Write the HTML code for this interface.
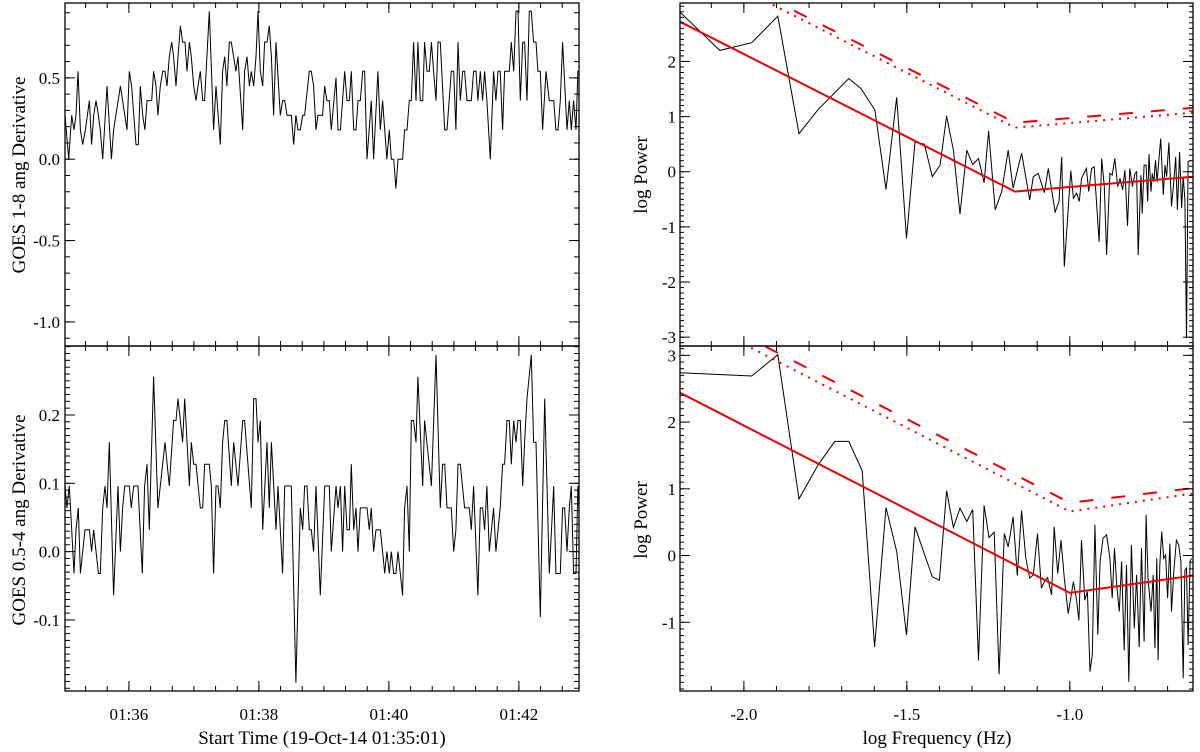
<!DOCTYPE html>
<html><head><meta charset="utf-8"><style>
html,body{margin:0;padding:0;background:#fff;}
svg{display:block;font-family:"Liberation Serif",serif;}
</style></head><body>
<svg id="fig" width="1200" height="752" viewBox="0 0 1200 752" xmlns="http://www.w3.org/2000/svg"></svg>
<script>
// ---- Top-left: GOES 1-8 derivative ----
const t18 = [0,3.4,6.2,8.3,10.2,12,14.2,16.3,18.8,22.5,24.6,26.5,28.6,30.8,32.6,34.8,38.8,42.8,44.9,51.1,57.2,59.4,61.5,65.5,67.7,69.5,71.7,73.8,75.7,80,81.8,84,85.8,88,90.2,92.3,94.2,96.3,98.5,100.3,102.5,104.3,106.5,108.6,110.8,112.6,114.8,116.6,118.8,120.9,122.8,124.9,127.1,128.9,133.2,137.2,139.4,143.4,145.5,147.4,149.5,151.7,153.5,157.8,159.7,164,165.8,168,170.2,172,174.2,176.3,178.2,180.3,182.5,184.3,186.5,188.6,190.5,192.6,194.8,198.8,200.9,202.8,204.9,208.9,211.1,213.2,215.1,217.2,219.4,221.2,225.5,227.4,229.5,231.7,233.5,237.8,239.7,241.8,244,245.8,250.2,252,254.2,258.2,260.3,262.5,264.3,266.5,268.6,270.5,272.6,274.8,276.6,278.8,282.8,284.9,288.9,291.1,293.2,295.1,297.2,299.4,301.2,303.4,305.5,307.4,311.7,313.5,315.7,317.8,319.7,321.8,324,325.8,328,330.2,332,334.2,336.3,338.2,340.3,342.5,344.3,346.5,350.5,352.6,356.6,358.8,360.9,362.8,364.9,367.1,368.9,371.1,375.1,377.2,379.4,381.2,383.4,385.5,387.4,389.5,392.6,395.7,397.8,399.7,401.8,404,405.8,408,410.2,412,414.2,416.3,418.2,420.3,422.5,424.3,426.5,428.6,430.5,432.6,434.8,436.6,438.8,440.9,444,447.1,448.9,451.1,453.2,455.1,457.2,459.4,463.4,465.5,467.4,469.5,471.7,473.5,474.5];
const v18 = [0.27,0,0.27,0.18,0.27,0.54,0.18,0.09,0.18,0.36,0.09,0.27,0.36,0.27,0.18,0,0.45,0,0.18,0.45,0.18,0.54,0.45,0.09,0.09,0.45,0.27,0.18,0.36,0.36,0.54,0.45,0.27,0.45,0.54,0.54,0.45,0.63,0.72,0.63,0.45,0.63,0.82,0.72,0.72,0.54,0.72,0.63,0.45,0.36,0.45,0.54,0.36,0.36,0.91,0.18,0.45,0.09,0.54,0.63,0.45,0.72,0.72,0.54,0.63,0.18,0.54,0.63,0.45,0.54,0.45,0.63,0.91,0.54,0.45,0.72,0.72,0.82,0.63,0.27,0.72,0.27,0.36,0.36,0.27,0.27,0.09,0.27,0.18,0.18,0.27,0.27,0.54,0.54,0.45,0.18,0.27,0.27,0.45,0.36,0.36,0.18,0.5,0.18,0.18,0.54,0.36,0.36,0.54,0.18,0.18,0.36,0.36,0.54,0.54,0,0.36,0,0.54,0.18,0.36,0.18,0,0.18,0,0,-0.18,0,0,0.18,0.18,0.36,0.36,0.72,0.36,0.72,0.36,0.36,0.72,0.54,0.54,0.72,0.54,0.36,0.72,0.72,0.18,0.18,0.54,0.54,0.18,0.72,0.36,0.54,0.54,0.36,0.36,0.54,0.54,0.36,0.54,0.36,0.54,0.36,0,0.54,0.36,0.54,0.54,0.18,0.54,0.54,0.54,0.72,0.54,0.91,0.91,0.36,0.72,0.72,0.36,0.91,0.91,0.72,0.72,0.54,0.54,0.18,0.54,0.36,0.36,0.36,0.18,0.18,0.36,0.72,0.18,0.36,0.18,0.36,0.18,0.54,0.54];
// ---- Bottom-left: GOES 0.5-4 derivative ----
const t054 = [0,1.8,4,6.2,8.3,10.2,12.3,14.2,16.3,18.5,22.5,24.6,26.5,30.8,32.6,34.8,36.9,38.8,40.9,44.9,48.9,51.1,53.2,55.1,59.4,61.2,63.4,67.4,71.4,73.5,75.7,77.8,81.8,85.8,88,92.3,96.3,100.3,102.5,104.3,108.6,110.5,114.8,116.6,118.8,120.9,124.9,127.1,128.9,133.2,135.1,137.2,139.4,141.2,143.4,145.5,147.4,149.5,153.5,155.7,159.7,164,165.8,172,174.2,176.3,178.2,180.3,182.5,186.5,188.6,190.5,194.8,196.6,200.9,202.8,208.9,213.2,217.2,219.4,221.2,223.4,225.5,227.4,229.5,231.7,235.7,239.7,244,245.8,250.2,252,254.2,256.3,258.2,260.3,262.5,264.3,266.5,268.6,270.5,272.6,276.6,278.8,280.9,282.8,284.9,287.1,291.1,293.2,295.1,297.2,299.4,301.2,303.4,305.5,307.4,311.7,313.5,315.7,317.8,319.7,321.8,324,325.8,330.2,332,338.2,342.5,346.5,348.6,350.5,352.6,356.6,358.8,360.9,362.8,364.9,368.9,373.2,375.1,377.2,381.2,383.4,385.5,387.4,389.5,391.7,395.7,397.8,401.8,404,405.8,408,410.2,412,414.2,416.3,418.2,420.3,422.5,424.3,426.5,430.5,432.6,434.8,438.8,442.8,447.1,451.1,453.2,457.2,459.4,461.2,463.4,465.5,467.4,469.5,471.7,473.5,474.5];
const v054 = [0.096,0.064,0.096,0.032,-0.032,0.032,0.064,-0.032,0,0.032,0.032,0,0.032,-0.032,-0.032,0.064,0.096,0.064,0.16,-0.064,0.096,0,0.064,0.096,0.096,0.064,0.096,0.096,-0.032,0.096,0.128,0.032,0.256,0.064,0.096,0.16,0.096,0.192,0.192,0.224,0.16,0.224,0.096,0.16,0.128,0.128,0.064,0.064,0.128,0.128,0.096,-0.032,0.096,0.096,0.064,0.16,0.192,0.192,0.096,0.16,0.096,0.192,0.192,0.064,0.224,0.224,0.16,0.192,0.032,0.16,0.064,0.16,0.032,0.096,-0.032,0.096,0.096,-0.192,0.064,0.032,0.096,0.096,0.032,0.032,0,0.096,-0.064,0.096,0.096,0,0.096,0.064,0.096,0,0.096,0.032,0.032,0.128,0.032,0.064,0,0.064,0.064,0.064,0.032,0.064,0,0.032,0.032,0,-0.032,0,-0.032,0,-0.032,-0.032,0,-0.064,0.064,0.096,0,0.192,0.192,0.16,0.256,0.096,0.192,0.096,0.288,0.064,0.128,0.128,0.064,0.064,0,0.032,0.128,0.128,0.064,0.064,0.032,0.096,-0.064,0.064,0.064,0.032,0.096,0,0.064,0,0.064,0.128,0.128,0.192,0.192,0.128,0.192,0.16,0.192,0.192,0.096,0.16,0.224,0.288,0.16,0.16,-0.096,0.224,-0.032,0.096,-0.032,-0.032,0.064,0.064,0,0.064,0.096,-0.032,-0.032,0.096,0.064];
// ---- Top-right: power spectrum 1-8 ----
const f18 = [-2.197,-2.074,-1.976,-1.896,-1.831,-1.772,-1.678,-1.641,-1.598,-1.564,-1.531,-1.501,-1.475,-1.446,-1.422,-1.398,-1.378,-1.357,-1.337,-1.316,-1.298,-1.280,-1.263,-1.249,-1.229,-1.209,-1.189,-1.174,-1.148,-1.123,-1.112,-1.097,-1.078,-1.066,-1.045,-1.033,-1.025,-1.017,-0.997,-0.989,-0.979,-0.971,-0.964,-0.949,-0.942,-0.933,-0.925,-0.910,-0.902,-0.894,-0.887,-0.877,-0.870,-0.862,-0.853,-0.846,-0.838,-0.831,-0.823,-0.816,-0.808,-0.800,-0.795,-0.790,-0.782,-0.778,-0.772,-0.766,-0.761,-0.757,-0.751,-0.747,-0.742,-0.737,-0.732,-0.726,-0.721,-0.713,-0.708,-0.703,-0.696,-0.688,-0.681,-0.675,-0.670,-0.663,-0.657,-0.652,-0.647,-0.642,-0.637,-0.628];
const p18 = [2.90,2.20,2.34,2.82,0.69,1.13,1.69,1.51,1.12,-0.32,1.35,-1.21,0.54,0.50,-0.09,0.12,1.01,0.39,-0.77,0.39,0.13,0.24,-0.20,0.74,-0.69,-0.36,0.39,-0.30,0.34,-0.51,-0.09,-0.03,-0.38,0.06,-0.73,-0.54,0.27,-1.72,0.02,-0.48,-0.39,-0.54,-0.12,0.06,-0.36,0.06,0.09,-1.27,0.24,-0.27,-1.51,-0.03,-0.06,0.24,-0.27,-0.12,-0.33,0.03,-0.98,0.06,-0.27,-0.03,0.00,-1.51,-0.06,-0.76,0.12,0.12,-0.54,0.32,-0.36,-0.03,-0.18,0.21,-0.18,0.27,0.60,-0.42,0.12,-0.09,0.53,-0.63,-0.18,0.27,-0.69,0.36,-0.66,-0.09,-0.51,-3.02,0.18,0.21];
const fitF18 = [-2.196,-1.168,-0.622];
const fitP18 = [2.72,-0.36,-0.09];
const dashP18 = [3.97,0.89,1.16];
const dotP18 = [3.88,0.80,1.07];
// ---- Bottom-right: power spectrum 0.5-4 ----
const f054 = [-2.197,-1.976,-1.896,-1.831,-1.772,-1.721,-1.678,-1.637,-1.599,-1.564,-1.531,-1.501,-1.475,-1.422,-1.400,-1.378,-1.357,-1.337,-1.316,-1.298,-1.280,-1.263,-1.248,-1.232,-1.217,-1.201,-1.189,-1.174,-1.161,-1.148,-1.135,-1.123,-1.112,-1.099,-1.087,-1.076,-1.068,-1.056,-1.048,-1.037,-1.027,-1.017,-1.005,-0.989,-0.979,-0.972,-0.964,-0.954,-0.946,-0.938,-0.931,-0.923,-0.914,-0.907,-0.898,-0.887,-0.877,-0.870,-0.863,-0.856,-0.848,-0.841,-0.833,-0.826,-0.819,-0.811,-0.802,-0.795,-0.787,-0.780,-0.772,-0.766,-0.760,-0.751,-0.744,-0.739,-0.733,-0.729,-0.724,-0.718,-0.712,-0.706,-0.700,-0.693,-0.688,-0.681,-0.673,-0.666,-0.659,-0.652,-0.647,-0.642,-0.637,-0.631,-0.627];
const p054 = [2.74,2.69,3.01,0.85,1.36,1.71,1.71,1.27,-1.37,0.72,0.06,-1.19,0.43,-0.32,-0.37,0.97,0.42,0.71,0.51,0.69,-1.57,0.75,0.27,0.35,-1.78,0.33,0.13,0.58,-0.30,0.67,-0.04,-0.34,-0.29,0.33,-0.49,-0.37,-0.33,-0.59,0.43,-0.27,0.23,-0.34,-0.87,-0.39,-0.67,-0.97,0.23,-0.67,-0.54,-1.74,-1.49,0.46,-1.19,-0.09,0.26,0.31,-0.04,-0.64,0.11,-0.44,-0.84,-0.09,-1.42,-0.14,-1.89,0.16,-1.09,-0.29,-1.37,0.11,-1.29,0.61,-0.34,-0.84,-0.29,-1.39,-0.04,-1.57,-0.14,0.36,-0.04,0.01,-0.64,0.18,-0.84,-0.24,0.23,0.16,-0.09,-1.84,-0.22,-0.19,-1.34,-0.09,-0.04];
const fitF054 = [-2.196,-1.0,-0.622];
const fitP054 = [2.44,-0.56,-0.30];
const dashP054 = [3.79,0.79,1.01];
const dotP054 = [3.66,0.66,0.93];
// tick labels
const timeTickSec = [59,179,299,419];
const timeTickLabels = ["01:36","01:38","01:40","01:42"];
const ytl18 = [0.5,0.0,-0.5,-1.0];
const ytl054 = [0.2,0.1,0.0,-0.1];
const freqTicks = [-2.0,-1.5,-1.0];
const ptl18 = [2,1,0,-1,-2,-3];
const ptl054 = [3,2,1,0,-1];

const NS="http://www.w3.org/2000/svg";
const svg=document.getElementById('fig');
function mk(tag,attrs,parent){const e=document.createElementNS(NS,tag);for(const k in attrs)e.setAttribute(k,attrs[k]);(parent||svg).appendChild(e);return e;}
function lin(d0,d1,r0,r1){return v=>r0+(v-d0)*(r1-r0)/(d1-d0);}

function panel(name,x0,x1,y0,y1,xd,yd){
  const g=mk('g',{});
  
  
  const cid='clip-'+name;
  const cp=mk('clipPath',{id:cid},g);mk('rect',{x:x0,y:y0,width:x1-x0,height:y1-y0},cp);
  return {g,cid,x0,x1,y0,y1,sx:lin(xd[0],xd[1],x0,x1),sy:lin(yd[0],yd[1],y1,y0)};
}
function frame(P){
  const r=mk('rect',{x:P.x0,y:P.y0,width:P.x1-P.x0,height:P.y1-P.y0,fill:'none',stroke:'#000','stroke-width':1.3},P.g);
  
  
}
function xticks(P,vals,len){
  vals.forEach(v=>{const x=P.sx(v);if(x<P.x0-0.5||x>P.x1+0.5)return;
    mk('line',{x1:x,x2:x,y1:P.y1,y2:P.y1-len,stroke:'#000','stroke-width':1},P.g);
    mk('line',{x1:x,x2:x,y1:P.y0,y2:P.y0+len,stroke:'#000','stroke-width':1},P.g);});
}
function yticks(P,vals,len){
  vals.forEach(v=>{const y=P.sy(v);if(y<P.y0-0.5||y>P.y1+0.5)return;
    mk('line',{x1:P.x0,x2:P.x0+len,y1:y,y2:y,stroke:'#000','stroke-width':1},P.g);
    mk('line',{x1:P.x1,x2:P.x1-len,y1:y,y2:y,stroke:'#000','stroke-width':1},P.g);});
}
function range(a,b,s){const r=[];for(let v=a;v<=b+1e-9;v+=s)r.push(Math.round(v*1000)/1000);return r;}
function series(P,xs,ys,name,attrs){
  const pts=xs.map((x,i)=>P.sx(x).toFixed(1)+','+P.sy(ys[i]).toFixed(1)).join(' ');
  const a=Object.assign({points:pts,fill:'none','clip-path':'url(#'+P.cid+')'},attrs);
  const e=mk('polyline',a,P.g);
  
  
}
function ylabels(P,vals,fmt,xr,name){
  vals.forEach(v=>{const t=mk('text',{x:xr,y:P.sy(v)+6,'text-anchor':'end','font-size':17},P.g);t.textContent=fmt(v);
    
    });
}
function text(x,y,s,name,rot,size){
  const t=mk('text',{x:x,y:y,'text-anchor':'middle','font-size':size||19});
  if(rot)t.setAttribute('transform','rotate(-90 '+x+' '+y+')');
  t.textContent=s;
  
  
}

const XL0=65,XL1=579,XR0=680,XR1=1193,YT0=3,YM=346,YB1=691;
// top-left
let A=panel('goes-1-8-panel',XL0,XL1,YT0,YM,[0,474.5],[-1.148,0.96]);
series(A,t18,v18,'goes-1-8-line',{stroke:'#000','stroke-width':1});
xticks(A,range(-1,474,20),5);xticks(A,timeTickSec,10);
yticks(A,range(-1.1,0.9,0.1),5);yticks(A,ytl18,10);
ylabels(A,ytl18,v=>v.toFixed(1),60,'y-tick-label');
frame(A);
// bottom-left
let B=panel('goes-0.5-4-panel',XL0,XL1,YM,YB1,[0,474.5],[-0.204,0.301]);
series(B,t054,v054,'goes-0.5-4-line',{stroke:'#000','stroke-width':1});
xticks(B,range(-1,474,20),5);xticks(B,timeTickSec,10);
yticks(B,range(-0.2,0.3,0.01),5);yticks(B,ytl054,10);
ylabels(B,ytl054,v=>v.toFixed(1),60,'y-tick-label');
frame(B);
timeTickSec.forEach((s,i)=>{text(B.sx(s),720,timeTickLabels[i],'x-tick-label',false,17);});
// top-right
let C=panel('power-1-8-panel',XR0,XR1,YT0,YM,[-2.196,-0.622],[-3.16,3.06]);
series(C,f18,p18,'power-1-8-line',{stroke:'#000','stroke-width':1});
series(C,fitF18,dotP18,'fit-dotted-1-8',{stroke:'#e00','stroke-width':2,'stroke-dasharray':'2,6'});
series(C,fitF18,dashP18,'fit-dashed-1-8',{stroke:'#e00','stroke-width':2,'stroke-dasharray':'14,18'});
series(C,fitF18,fitP18,'fit-line-1-8',{stroke:'#e00','stroke-width':2});
xticks(C,range(-2.1,-0.7,0.1),5);xticks(C,freqTicks,10);
yticks(C,range(-3.1,3.0,0.1),4);yticks(C,ptl18,10);
ylabels(C,ptl18,v=>String(v),676,'y-tick-label');
frame(C);
// bottom-right
let D=panel('power-0.5-4-panel',XR0,XR1,YM,YB1,[-2.196,-0.622],[-2.03,3.14]);
series(D,f054,p054,'power-0.5-4-line',{stroke:'#000','stroke-width':1});
series(D,fitF054,dotP054,'fit-dotted-0.5-4',{stroke:'#e00','stroke-width':2,'stroke-dasharray':'2,6'});
series(D,fitF054,dashP054,'fit-dashed-0.5-4',{stroke:'#e00','stroke-width':2,'stroke-dasharray':'14,18'});
series(D,fitF054,fitP054,'fit-line-0.5-4',{stroke:'#e00','stroke-width':2});
xticks(D,range(-2.1,-0.7,0.1),5);xticks(D,freqTicks,10);
yticks(D,range(-2.0,3.1,0.1),4);yticks(D,ptl054,10);
ylabels(D,ptl054,v=>String(v),676,'y-tick-label');
frame(D);
freqTicks.forEach(f=>{text(D.sx(f),720,f.toFixed(1),'x-tick-label',false,17);});
// axis titles
text(25,175,'GOES 1-8 ang Derivative','y-axis-title-top-left',true);
text(25,520,'GOES 0.5-4 ang Derivative','y-axis-title-bottom-left',true);
text(647,175,'log Power','y-axis-title-top-right',true);
text(647,520,'log Power','y-axis-title-bottom-right',true);
text(322,744,'Start Time (19-Oct-14 01:35:01)','x-axis-title-left',false);
text(937,744,'log Frequency (Hz)','x-axis-title-right',false);
</script>
</body></html>
